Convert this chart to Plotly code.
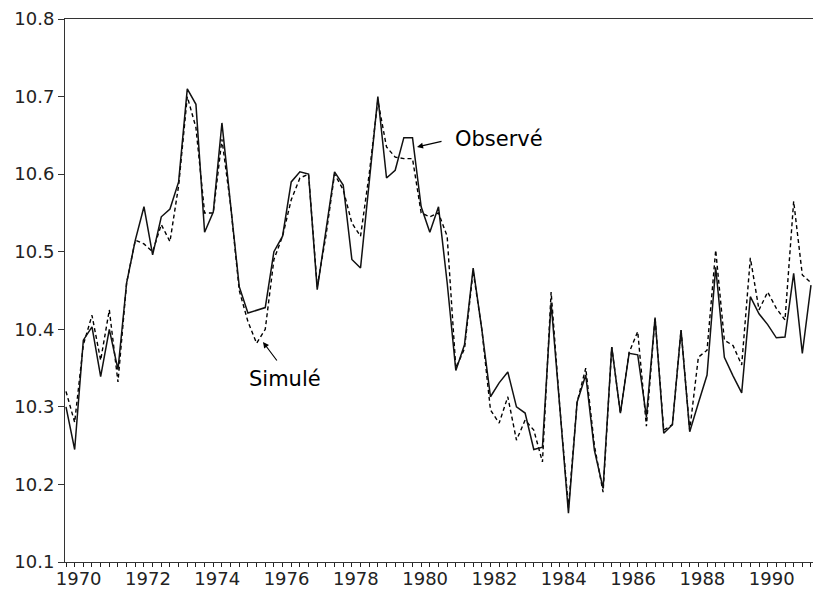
import plotly.graph_objects as go

# Quarterly series, 1970Q1 .. 1991Q3 (x = quarter mid-points)
start_year = 1970
observe = [
    10.300, 10.245, 10.386, 10.403, 10.339, 10.400, 10.348, 10.460, 10.515, 10.558,
    10.496, 10.545, 10.555, 10.590, 10.710, 10.690, 10.525, 10.551, 10.666, 10.560,
    10.455, 10.421, 10.424, 10.428, 10.500, 10.520, 10.590, 10.603, 10.600, 10.451,
    10.527, 10.603, 10.586, 10.490, 10.479, 10.590, 10.700, 10.595, 10.605, 10.647,
    10.647, 10.558, 10.525, 10.558, 10.460, 10.347, 10.380, 10.479, 10.400, 10.313,
    10.331, 10.345, 10.300, 10.292, 10.245, 10.248, 10.434, 10.300, 10.163, 10.306,
    10.341, 10.244, 10.195, 10.377, 10.292, 10.369, 10.367, 10.287, 10.415, 10.266,
    10.277, 10.399, 10.268, 10.305, 10.341, 10.480, 10.364, 10.340, 10.318, 10.442,
    10.420, 10.406, 10.389, 10.390, 10.472, 10.369, 10.457,
]
simule = [
    10.320, 10.280, 10.380, 10.418, 10.360, 10.425, 10.332, 10.460, 10.515, 10.510,
    10.500, 10.535, 10.513, 10.585, 10.700, 10.660, 10.550, 10.550, 10.645, 10.560,
    10.450, 10.410, 10.382, 10.400, 10.490, 10.520, 10.567, 10.595, 10.600, 10.455,
    10.520, 10.600, 10.580, 10.537, 10.520, 10.600, 10.695, 10.635, 10.622, 10.620,
    10.620, 10.550, 10.545, 10.550, 10.520, 10.350, 10.375, 10.475, 10.400, 10.296,
    10.279, 10.313, 10.257, 10.283, 10.270, 10.229, 10.448, 10.300, 10.170, 10.306,
    10.350, 10.250, 10.190, 10.377, 10.292, 10.370, 10.397, 10.275, 10.415, 10.270,
    10.277, 10.399, 10.270, 10.364, 10.373, 10.502, 10.386, 10.379, 10.354, 10.492,
    10.425, 10.448, 10.427, 10.412, 10.565, 10.470, 10.460,
]
year_labels = [1970, 1972, 1974, 1976, 1978, 1980, 1982, 1984, 1986, 1988, 1990]
y_ticks = [10.1, 10.2, 10.3, 10.4, 10.5, 10.6, 10.7, 10.8]

x = [start_year + 0.125 + 0.25 * i for i in range(len(observe))]
x_range = [1970.096, 1991.683]

# quarterly tick marks; the year label sits on each labelled year's 2nd quarter
# (shifted half a quarter to the right so it is centred on the year)
tick_x = x + [x[-1] + 0.25]
tick_text = []
for i, tv in enumerate(tick_x):
    yr = start_year + i // 4
    tick_text.append(str(yr) if (i % 4 == 1 and yr in year_labels) else "")

FONT = "DejaVu Sans"

fig = go.Figure()
fig.add_trace(go.Scatter(x=x, y=simule, mode="lines", name="Simulé",
                         line=dict(color="black", width=1.4, dash="4px,3px")))
fig.add_trace(go.Scatter(x=x, y=observe, mode="lines", name="Observé",
                         line=dict(color="#111111", width=1.5)))

# annotations
fig.add_annotation(x=1980.255, y=10.635, ax=26, ay=-6, text="", showarrow=True,
                   arrowhead=2, arrowsize=1, arrowwidth=1.2, arrowcolor="black")
fig.add_annotation(x=1982.62, y=10.645, text="Observé", showarrow=False,
                   font=dict(family=FONT, size=21, color="black"))
fig.add_annotation(x=1975.81, y=10.3836, ax=15, ay=20, text="", showarrow=True,
                   arrowhead=2, arrowsize=1, arrowwidth=1.2, arrowcolor="black")
fig.add_annotation(x=1976.445, y=10.336, text="Simulé", showarrow=False,
                   font=dict(family=FONT, size=21, color="black"))

fig.update_layout(
    width=813, height=589,
    margin=dict(l=65, r=0, t=19, b=27),
    paper_bgcolor="white", plot_bgcolor="white",
    showlegend=False,
    font=dict(family=FONT, size=18, color="#222222"),
    xaxis=dict(
        range=x_range,
        tickmode="array",
        tickvals=tick_x,
        ticktext=tick_text,
        ticks="outside", ticklen=4, tickwidth=1, tickcolor="#222222",
        showgrid=False, zeroline=False,
        showline=True, linecolor="#333333", linewidth=1, mirror=True,
        ticklabelstandoff=-4, ticklabelshift=4,
        tickfont=dict(family=FONT, size=18, color="#222222"),
        automargin=False,
    ),
    yaxis=dict(
        range=[10.1, 10.8],
        tickmode="array",
        tickvals=y_ticks,
        ticktext=[f"{v:.1f}" for v in y_ticks],
        ticks="outside", ticklen=6, tickcolor="#333333",
        showgrid=False, zeroline=False,
        showline=True, linecolor="#333333", linewidth=1, mirror=False,
        tickfont=dict(family=FONT, size=18, color="#222222"),
        automargin=False,
    ),
)

fig.write_html(
    "out.html",
    config={"displayModeBar": False},
    post_script="document.body.style.margin='0';document.body.style.overflow='hidden';",
)
